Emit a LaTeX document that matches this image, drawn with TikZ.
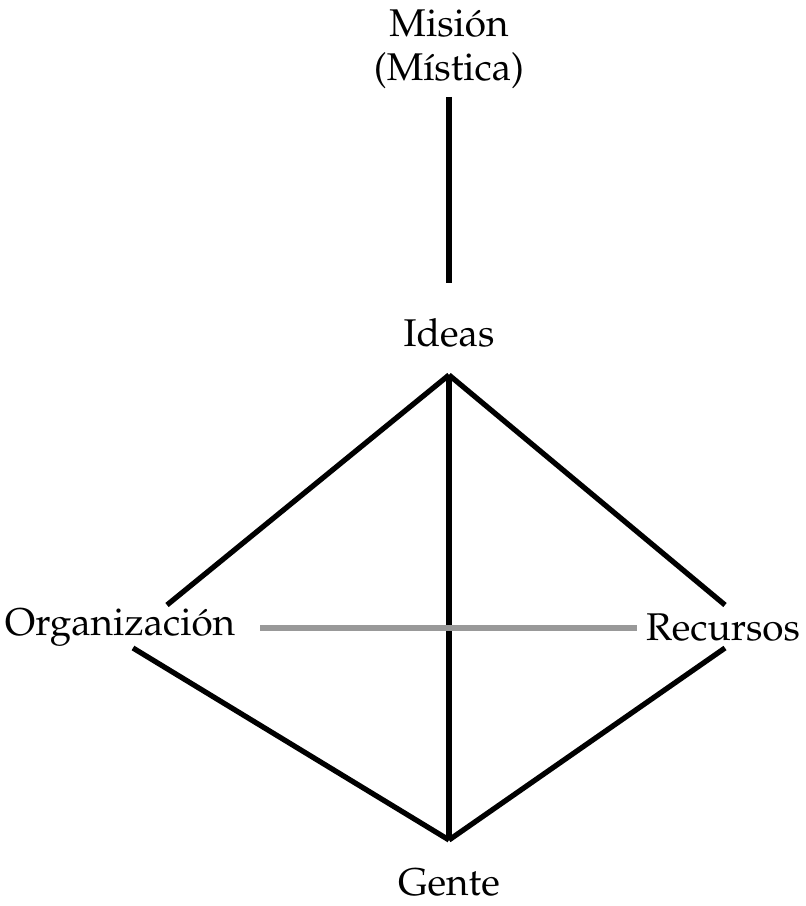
\documentclass[tikz,border=0pt]{standalone}
\usepackage[T1]{fontenc}
\usepackage{mathpazo}
\usepackage{xcolor}
\usepackage{tikz}
\usetikzlibrary{positioning,calc}

\begin{document}
\begin{tikzpicture}
    \tikzset{
        label text/.style={font=\fontsize{22}{25}\selectfont, inner sep=0pt, align=center},
        edge line/.style={line width=3pt, black},
        cross line/.style={line width=3pt, gray!80}
    }
    \useasboundingbox (0, 0) rectangle (16.1, 18.12);

    % Labels
    \node [label text] (mision) at (8.98, 17.14) {Misi\'on\\(M\'istica)};
    \node [label text] (ideas) at (8.98, 11.46) {Ideas};
    \node [label text] (org) at (2.4, 5.56) {Organizaci\'on};
    \node [label text] (rec) at (14.46, 5.56) {Recursos};
    \node [label text] (gente) at (8.98, 0.46) {Gente};

    % Corner points
    \coordinate (misbot) at (8.98, 16.18);
    \coordinate (ideastop) at (8.98, 12.46);
    \coordinate (top) at (8.98, 10.62);
    \coordinate (bot) at (8.98, 1.32);
    \coordinate (orgup) at (3.34, 6.02);
    \coordinate (orgdown) at (2.66, 5.16);
    \coordinate (recup) at (14.5, 6.02);
    \coordinate (recdown) at (14.5, 5.16);
    \coordinate (crossl) at (5.2, 5.56);
    \coordinate (crossr) at (12.74, 5.56);

    % Mission line
    \draw [edge line] (misbot) -- (ideastop);

    % Diamond
    \draw [edge line] (top) -- (orgup);
    \draw [edge line] (top) -- (recup);
    \draw [edge line] (orgdown) -- (bot);
    \draw [edge line] (recdown) -- (bot);
    \draw [edge line] (top) -- (bot);

    % Cross bar
    \draw [cross line] (crossl) -- (crossr);
\end{tikzpicture}
\end{document}
